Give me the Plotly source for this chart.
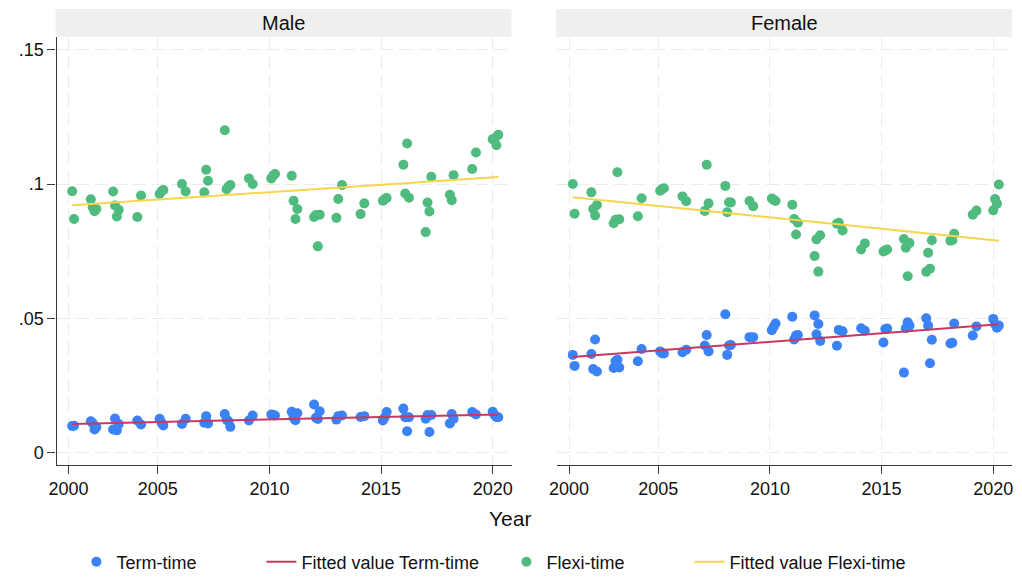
import numpy as np
import plotly.graph_objects as go

# Survey periods (decimal year of each quarterly observation)
period = [
    2001.167, 2001.25,
    2002.0, 2002.083, 2002.167, 2002.25,
    2003.0, 2003.083, 2003.167, 2003.25,
    2004.083, 2004.25,
    2005.083, 2005.167, 2005.25,
    2006.083, 2006.25,
    2007.083, 2007.167, 2007.25,
    2008.0, 2008.083, 2008.167, 2008.25,
    2009.083, 2009.25,
    2010.083, 2010.167, 2010.25,
    2011.0, 2011.083, 2011.167, 2011.25,
    2012.0, 2012.083, 2012.167, 2012.25,
    2013.0, 2013.083, 2013.25,
    2014.083, 2014.25,
    2015.083, 2015.167, 2015.25,
    2016.0, 2016.083, 2016.167, 2016.25,
    2017.0, 2017.083, 2017.167, 2017.25,
    2018.083, 2018.167, 2018.25,
    2019.083, 2019.25,
    2020.0, 2020.083, 2020.167, 2020.25,
]

male_flexi = [
    0.0973, 0.0870,
    0.0943, 0.0914, 0.0899, 0.0907,
    0.0972, 0.0920, 0.0879, 0.0904,
    0.0877, 0.0957,
    0.0963, 0.0973, 0.0978,
    0.1000, 0.0972,
    0.0969, 0.1053, 0.1012,
    0.1200, 0.0981, 0.0991, 0.0996,
    0.1021, 0.1000,
    0.1021, 0.1031, 0.1037,
    0.1031, 0.0938, 0.0870, 0.0907,
    0.0877, 0.0885, 0.0768, 0.0886,
    0.0874, 0.0944, 0.0996,
    0.0888, 0.0928,
    0.0938, 0.0944, 0.0948,
    0.1072, 0.0965, 0.1151, 0.0949,
    0.0821, 0.0931, 0.0898, 0.1027,
    0.0960, 0.0940, 0.1033,
    0.1056, 0.1117,
    0.1167, 0.1169, 0.1144, 0.1183,
]

male_term = [
    0.0099, 0.0100,
    0.0117, 0.0110, 0.0086, 0.0095,
    0.0086, 0.0127, 0.0083, 0.0107,
    0.0120, 0.0105,
    0.0126, 0.0111, 0.0101,
    0.0107, 0.0126,
    0.0111, 0.0136, 0.0109,
    0.0144, 0.0123, 0.0117, 0.0096,
    0.0120, 0.0138,
    0.0142, 0.0140, 0.0138,
    0.0152, 0.0130, 0.0121, 0.0147,
    0.0179, 0.0130, 0.0125, 0.0154,
    0.0123, 0.0136, 0.0138,
    0.0133, 0.0136,
    0.0120, 0.0132, 0.0151,
    0.0164, 0.0132, 0.0080, 0.0132,
    0.0126, 0.0140, 0.0077, 0.0140,
    0.0109, 0.0144, 0.0126,
    0.0151, 0.0142,
    0.0152, 0.0140, 0.0133, 0.0132,
]

female_flexi = [
    0.1000, 0.0889,
    0.0969, 0.0907, 0.0883, 0.0922,
    0.0854, 0.0867, 0.1044, 0.0869,
    0.0880, 0.0947,
    0.0975, 0.0981, 0.0984,
    0.0954, 0.0936,
    0.0900, 0.1072, 0.0928,
    0.0993, 0.0895, 0.0932, 0.0931,
    0.0937, 0.0917,
    0.0946, 0.0941, 0.0937,
    0.0923, 0.0870, 0.0812, 0.0856,
    0.0732, 0.0794, 0.0674, 0.0809,
    0.0852, 0.0856, 0.0827,
    0.0756, 0.0779,
    0.0749, 0.0753, 0.0756,
    0.0795, 0.0763, 0.0657, 0.0780,
    0.0673, 0.0744, 0.0685, 0.0791,
    0.0789, 0.0791, 0.0815,
    0.0886, 0.0901,
    0.0902, 0.0944, 0.0927, 0.0998,
]

female_term = [
    0.0364, 0.0323,
    0.0367, 0.0311, 0.0421, 0.0302,
    0.0315, 0.0340, 0.0346, 0.0317,
    0.0340, 0.0386,
    0.0377, 0.0370, 0.0369,
    0.0374, 0.0383,
    0.0399, 0.0438, 0.0377,
    0.0515, 0.0364, 0.0399, 0.0401,
    0.0430, 0.0430,
    0.0456, 0.0469, 0.0481,
    0.0506, 0.0421, 0.0436, 0.0438,
    0.0511, 0.0441, 0.0479, 0.0416,
    0.0398, 0.0457, 0.0452,
    0.0463, 0.0454,
    0.0410, 0.0460, 0.0462,
    0.0298, 0.0463, 0.0485, 0.0473,
    0.0500, 0.0473, 0.0333, 0.0420,
    0.0406, 0.0409, 0.0481,
    0.0436, 0.0470,
    0.0498, 0.0478, 0.0465, 0.0473,
]

panels = ["Male", "Female"]
x_tick_pos = [2001, 2005, 2010, 2015, 2020]
x_tick_text = ["2000", "2005", "2010", "2015", "2020"]
y_tick_vals = [0, 0.05, 0.1, 0.15]
y_tick_text = ["0", ".05", ".1", ".15"]

BLUE = "#3b82f6"
GREEN = "#50bb7f"
RED = "#c8385f"
YELLOW = "#f8d54a"
FONT = "Liberation Sans, Arial, Helvetica, sans-serif"

W, H = 1022, 581

# Width reserved for each legend entry's label
LEGEND_W = {
    "Term-time": 140,
    "Fitted value Term-time": 200,
    "Flexi-time": 138,
    "Fitted value Flexi-time": 185,
}


def fitted(x, y):
    x = np.asarray(x, dtype=float)
    slope, intercept = np.polyfit(x, np.asarray(y, dtype=float), 1)
    xs = np.array([x.min(), x.max()])
    return xs, slope * xs + intercept


fig = go.Figure()

series = [
    ("Male", male_term, male_flexi, "x", "y"),
    ("Female", female_term, female_flexi, "x2", "y2"),
]

for i, (name, term, flexi, xa, ya) in enumerate(series):
    first = i == 0
    fig.add_trace(go.Scatter(
        x=period, y=term, mode="markers", name="Term-time",
        marker=dict(color=BLUE, size=10, line=dict(width=0)),
        xaxis=xa, yaxis=ya, showlegend=first, legendrank=1,
        legendwidth=LEGEND_W["Term-time"],
    ))
    fig.add_trace(go.Scatter(
        x=period, y=flexi, mode="markers", name="Flexi-time",
        marker=dict(color=GREEN, size=10, line=dict(width=0)),
        xaxis=xa, yaxis=ya, showlegend=first, legendrank=3,
        legendwidth=LEGEND_W["Flexi-time"],
    ))
    fx, fy = fitted(period, term)
    fig.add_trace(go.Scatter(
        x=fx, y=fy, mode="lines", name="Fitted value Term-time",
        line=dict(color=RED, width=2),
        xaxis=xa, yaxis=ya, showlegend=first, legendrank=2,
        legendwidth=LEGEND_W["Fitted value Term-time"],
    ))
    fx, fy = fitted(period, flexi)
    fig.add_trace(go.Scatter(
        x=fx, y=fy, mode="lines", name="Fitted value Flexi-time",
        line=dict(color=YELLOW, width=2),
        xaxis=xa, yaxis=ya, showlegend=first, legendrank=4,
        legendwidth=LEGEND_W["Fitted value Flexi-time"],
    ))

x_domains = [[49 / W, 508 / W], [554 / W, 1013 / W]]
y_domain = [1 - 467 / H, 1 - 37 / H]
x_range = [2000.467, 2020.844]
y_range = [-0.00444, 0.1548]

grid = dict(showgrid=True, gridcolor="#ebebeb", gridwidth=1.2, griddash="13px,6px")

common_x = dict(
    range=x_range, tickmode="array", tickvals=x_tick_pos, ticktext=x_tick_text,
    showline=True, linecolor="#3a3a3a", linewidth=1.4, mirror=False,
    ticks="outside", ticklen=8, tickwidth=1.3, tickcolor="#3a3a3a",
    tickfont=dict(family=FONT, size=18, color="#111"), ticklabelstandoff=0,
    zeroline=False, fixedrange=True, **grid,
)

fig.update_layout(
    width=W, height=H,
    margin=dict(l=0, r=0, t=0, b=0),
    paper_bgcolor="white", plot_bgcolor="white",
    font=dict(family=FONT, color="#111"),
    xaxis=dict(domain=x_domains[0], anchor="y", **common_x),
    xaxis2=dict(domain=x_domains[1], anchor="y2", **common_x),
    yaxis=dict(
        domain=y_domain, anchor="x", range=y_range,
        tickmode="array", tickvals=y_tick_vals, ticktext=y_tick_text,
        showline=True, linecolor="#3a3a3a", linewidth=1.4,
        ticks="outside", ticklen=8, tickwidth=1.3, tickcolor="#3a3a3a",
        tickfont=dict(family=FONT, size=18, color="#111"),
        zeroline=False, fixedrange=True, **grid,
    ),
    yaxis2=dict(
        domain=y_domain, anchor="x2", range=y_range,
        tickmode="array", tickvals=y_tick_vals, showticklabels=False,
        showline=False, ticks="", zeroline=False, fixedrange=True, **grid,
    ),
    legend=dict(
        orientation="h", x=69 / W, xanchor="left",
        y=1 - 565 / H, yanchor="middle",
        font=dict(family=FONT, size=18, color="#111"),
        bgcolor="rgba(0,0,0,0)", traceorder="normal",
        entrywidthmode="pixels",
    ),
    showlegend=True,
)

# Panel header strips
strip_x = [[48, 508], [553, 1013]]
for label, (x0, x1) in zip(panels, strip_x):
    fig.add_shape(
        type="rect", xref="paper", yref="paper",
        x0=x0 / W, x1=x1 / W, y0=1 - 37 / H, y1=1 - 9 / H,
        fillcolor="#efefef", line=dict(width=0), layer="below",
    )
    fig.add_annotation(
        text=label, xref="paper", yref="paper",
        x=(x0 + x1) / 2 / W, y=1 - 23 / H, xanchor="center", yanchor="middle",
        showarrow=False, font=dict(family=FONT, size=20, color="#111"),
    )

fig.add_annotation(
    text="Year", xref="paper", yref="paper",
    x=506 / W, y=1 - 521 / H, xanchor="center", yanchor="middle",
    showarrow=False, font=dict(family=FONT, size=21, color="#111"),
)

fig.write_html("out.html")
